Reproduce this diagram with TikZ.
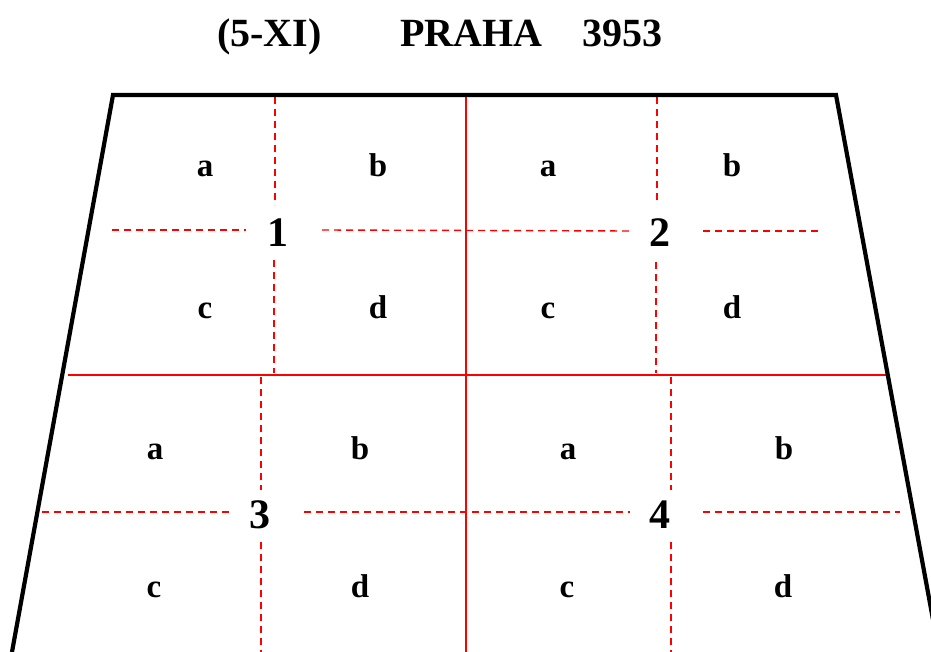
\documentclass[tikz,border=0pt]{standalone}
\usepackage{fontspec}
\setmainfont{Liberation Serif}
\begin{document}
\begin{tikzpicture}[x=1pt,y=-1pt,
  frame/.style={line width=4.2pt,black,line join=miter},
  redsolid/.style={line width=2pt,red},
  reddash/.style={line width=1.4pt,red,dash pattern=on 7pt off 5pt},
  lbl/.style={font=\fontsize{33}{36}\selectfont\bfseries,inner sep=0pt,anchor=base},
  num/.style={font=\fontsize{42}{46}\selectfont\bfseries,inner sep=0pt},
  ttl/.style={font=\fontsize{40}{44}\selectfont\bfseries,inner sep=0pt,anchor=base west}]
\useasboundingbox (0,0) rectangle (931,652);
\clip (0,0) rectangle (931,652);
% title
\node[ttl] (t1) at (217,47) {(5-XI)};
\node[ttl] (t2) at (400,47) {PRAHA};
\node[ttl] (t3) at (582,47) {3953};
% frame corners
\coordinate (tl) at (113,95);
\coordinate (tr) at (836,95);
\coordinate (bl) at (12,652);
\coordinate (br) at (939,652);
% red solid lines
\coordinate (vt) at (466,95);
\coordinate (vb) at (466,652);
\coordinate (hl) at (68,375);
\coordinate (hr) at (889,375);
\draw[redsolid] (vt) -- (vb);
\draw[redsolid] (hl) -- (hr);
% dashed lines, upper half
\draw[reddash] (275,97) -- (275,205);
\draw[reddash] (274,260) -- (274,373);
\draw[reddash] (657,97) -- (657,200);
\draw[reddash] (656,262) -- (656,373);
\draw[reddash] (112,230) -- (246,230);
\draw[reddash] (322,230) -- (630,231);
\draw[reddash] (703,231) -- (820,231);
% dashed lines, lower half
\draw[reddash] (261,377) -- (261,490);
\draw[reddash] (261,542) -- (261,652);
\draw[reddash] (671,377) -- (671,490);
\draw[reddash] (671,542) -- (671,652);
\draw[reddash] (42,512) -- (232,512);
\draw[reddash] (304,512) -- (630,512);
\draw[reddash] (703,512) -- (900,512);
% frame
\draw[frame] (bl) -- (tl) -- (tr) -- (br);
% labels upper
\node[lbl] (a1) at (205,177) {a};
\node[lbl] (b1) at (378,177) {b};
\node[lbl] (a2) at (548,177) {a};
\node[lbl] (b2) at (732,177) {b};
\node[lbl] (c1) at (205,318) {c};
\node[lbl] (d1) at (378,318) {d};
\node[lbl] (c2) at (548,318) {c};
\node[lbl] (d2) at (732,318) {d};
% labels lower
\node[lbl] (a3) at (155,459) {a};
\node[lbl] (b3) at (360,459) {b};
\node[lbl] (a4) at (568,459) {a};
\node[lbl] (b4) at (784,459) {b};
\node[lbl] (c3) at (154,597) {c};
\node[lbl] (d3) at (360,597) {d};
\node[lbl] (c4) at (567,597) {c};
\node[lbl] (d4) at (783,597) {d};
% numbers
\node[num] (n1) at (278,233) {1};
\node[num] (n2) at (660,233) {2};
\node[num] (n3) at (260,515) {3};
\node[num] (n4) at (660,515) {4};
\end{tikzpicture}
\end{document}
